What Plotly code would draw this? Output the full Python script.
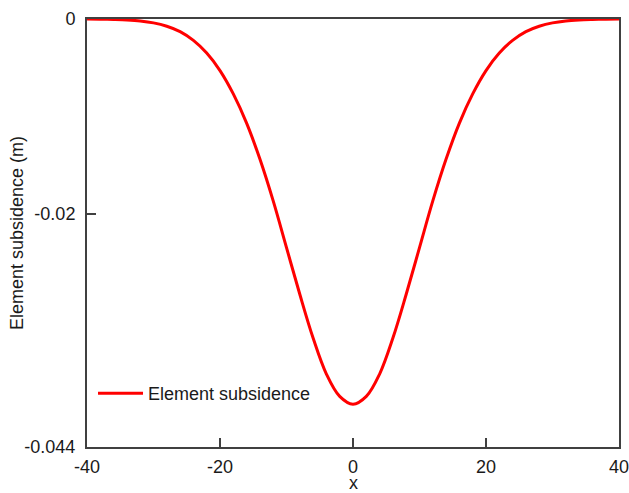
import plotly.graph_objects as go

x_vals = [-40, -38, -36, -34, -32, -30, -28, -26, -24, -22, -20, -18, -16, -14, -12, -10, -8, -6, -4, -2,
          0, 2, 4, 6, 8, 10, 12, 14, 16, 18, 20, 22, 24, 26, 28, 30, 32, 34, 36, 38, 40]
subsidence = [0.0, -0.00002, -0.00005, -0.0001, -0.0002, -0.0004, -0.00075, -0.0013, -0.0022, -0.0035,
              -0.0053, -0.0077, -0.0107, -0.0144, -0.0187, -0.0235, -0.0283, -0.0328, -0.0365, -0.0388,
              -0.0396, -0.0388, -0.0365, -0.0328, -0.0283, -0.0235, -0.0187, -0.0144, -0.0107, -0.0077,
              -0.0053, -0.0035, -0.0022, -0.0013, -0.00075, -0.0004, -0.0002, -0.0001, -0.00005, -0.00002, 0.0]

x_ticks = [-40, -20, 0, 20, 40]
x_tick_text = ["-40", "-20", "0", "20", "40"]
y_ticks = [0, -0.02, -0.044]
y_tick_text = ["0", "-0.02", "-0.044"]
x_title = "x"
y_title = "Element subsidence (m)"

font_family = "Liberation Sans, Arial, sans-serif"
axis_color = "#404040"
text_color = "#1a1a1a"

fig = go.Figure()
fig.add_trace(go.Scatter(
    x=x_vals, y=subsidence, mode="lines", name="Element subsidence",
    line=dict(color="#ff0000", width=3, shape="spline", smoothing=1.0),
))

fig.update_layout(
    width=629, height=493,
    margin=dict(l=87, r=10, t=19, b=46),
    paper_bgcolor="white", plot_bgcolor="white",
    font=dict(family=font_family, size=18, color=text_color),
    showlegend=True,
    legend=dict(x=0.0113, y=0.125, xanchor="left", yanchor="middle", itemwidth=45,
                bgcolor="rgba(0,0,0,0)", font=dict(size=18)),
    annotations=[
        dict(text=x_title, xref="paper", yref="paper", x=0.5, y=-0.0841,
             xanchor="center", yanchor="middle", showarrow=False, font=dict(size=18)),
        dict(text=y_title, xref="paper", yref="paper", x=(17 - 87) / 532, y=0.5,
             xanchor="center", yanchor="middle", textangle=-90, showarrow=False, font=dict(size=18)),
    ],
)
fig.update_xaxes(
    range=[-40, 40], tickmode="array", tickvals=x_ticks, ticktext=x_tick_text,
    ticks="inside", ticklen=9, tickwidth=1.5, tickcolor=axis_color,
    showline=True, linecolor=axis_color, linewidth=2, mirror=True,
    showgrid=False, zeroline=False, automargin=False, ticklabelstandoff=2,
    ticklabeloverflow="allow",
)
fig.update_yaxes(
    range=[-0.044, 0], tickmode="array", tickvals=y_ticks, ticktext=y_tick_text,
    ticks="inside", ticklen=9, tickwidth=1.5, tickcolor=axis_color,
    showline=True, linecolor=axis_color, linewidth=2, mirror=True,
    showgrid=False, zeroline=False, automargin=False, ticklabelstandoff=6,
    ticklabeloverflow="allow",
)

# remove the default 8px page margin so the figure fills the window exactly
fig.write_html("out.html", config={"displayModeBar": False},
               post_script="document.body.style.margin='0';")
